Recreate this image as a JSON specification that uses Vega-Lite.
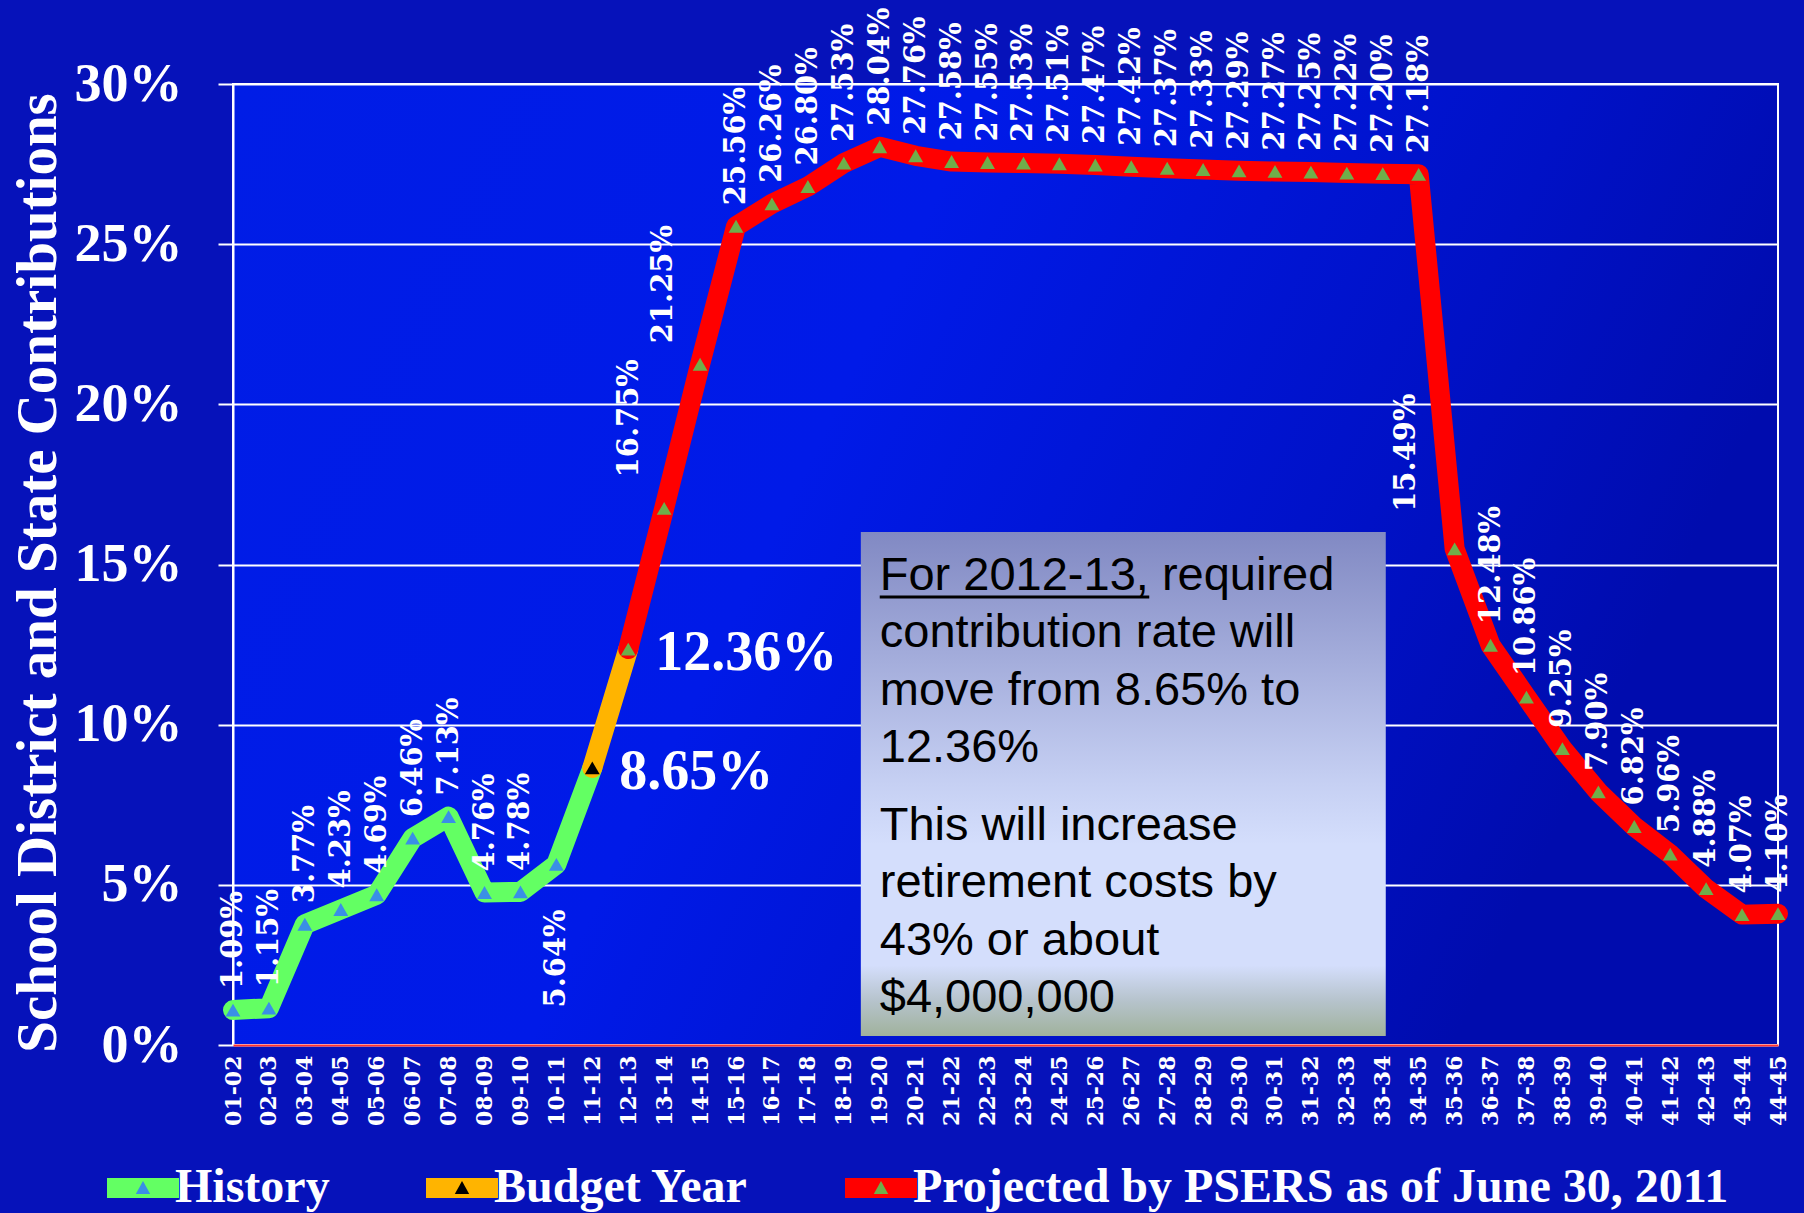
{
  "$schema": "https://vega.github.io/schema/vega-lite/v6.json",
  "width": 1545,
  "height": 961,
  "autosize": {"type": "none"},
  "padding": {"left": 233, "top": 84, "right": 26, "bottom": 168},
  "background": "#0612ba",
  "config": {
    "view": {
      "fill": {"gradient": "linear", "x1": 0, "y1": 0, "x2": 1, "y2": 0.3,
        "stops": [
          {"offset": 0, "color": "#001de6"},
          {"offset": 0.45, "color": "#001ae8"},
          {"offset": 0.8, "color": "#0011c6"},
          {"offset": 1, "color": "#000cae"}
        ]},
      "stroke": "white",
      "strokeWidth": 2
    },
    "legend": {"padding": 0}
  },
  "datasets": {
    "notes": [
      {"note": "For 2012-13, required contribution rate will move from 8.65% to 12.36%. This will increase retirement costs by 43% or about $4,000,000"}
    ],
    "rates": [
      {"year": "01-02", "rate": 0.0109, "series": "History"},
      {"year": "02-03", "rate": 0.0115, "series": "History"},
      {"year": "03-04", "rate": 0.0377, "series": "History"},
      {"year": "04-05", "rate": 0.0423, "series": "History"},
      {"year": "05-06", "rate": 0.0469, "series": "History"},
      {"year": "06-07", "rate": 0.0646, "series": "History"},
      {"year": "07-08", "rate": 0.0713, "series": "History"},
      {"year": "08-09", "rate": 0.0476, "series": "History"},
      {"year": "09-10", "rate": 0.0478, "series": "History"},
      {"year": "10-11", "rate": 0.0564, "series": "History"},
      {"year": "11-12", "rate": 0.0865, "series": "Budget Year"},
      {"year": "12-13", "rate": 0.1236, "series": "Projected by PSERS as of June 30, 2011"},
      {"year": "13-14", "rate": 0.1675, "series": "Projected by PSERS as of June 30, 2011"},
      {"year": "14-15", "rate": 0.2125, "series": "Projected by PSERS as of June 30, 2011"},
      {"year": "15-16", "rate": 0.2556, "series": "Projected by PSERS as of June 30, 2011"},
      {"year": "16-17", "rate": 0.2626, "series": "Projected by PSERS as of June 30, 2011"},
      {"year": "17-18", "rate": 0.2680, "series": "Projected by PSERS as of June 30, 2011"},
      {"year": "18-19", "rate": 0.2753, "series": "Projected by PSERS as of June 30, 2011"},
      {"year": "19-20", "rate": 0.2804, "series": "Projected by PSERS as of June 30, 2011"},
      {"year": "20-21", "rate": 0.2776, "series": "Projected by PSERS as of June 30, 2011"},
      {"year": "21-22", "rate": 0.2758, "series": "Projected by PSERS as of June 30, 2011"},
      {"year": "22-23", "rate": 0.2755, "series": "Projected by PSERS as of June 30, 2011"},
      {"year": "23-24", "rate": 0.2753, "series": "Projected by PSERS as of June 30, 2011"},
      {"year": "24-25", "rate": 0.2751, "series": "Projected by PSERS as of June 30, 2011"},
      {"year": "25-26", "rate": 0.2747, "series": "Projected by PSERS as of June 30, 2011"},
      {"year": "26-27", "rate": 0.2742, "series": "Projected by PSERS as of June 30, 2011"},
      {"year": "27-28", "rate": 0.2737, "series": "Projected by PSERS as of June 30, 2011"},
      {"year": "28-29", "rate": 0.2733, "series": "Projected by PSERS as of June 30, 2011"},
      {"year": "29-30", "rate": 0.2729, "series": "Projected by PSERS as of June 30, 2011"},
      {"year": "30-31", "rate": 0.2727, "series": "Projected by PSERS as of June 30, 2011"},
      {"year": "31-32", "rate": 0.2725, "series": "Projected by PSERS as of June 30, 2011"},
      {"year": "32-33", "rate": 0.2722, "series": "Projected by PSERS as of June 30, 2011"},
      {"year": "33-34", "rate": 0.2720, "series": "Projected by PSERS as of June 30, 2011"},
      {"year": "34-35", "rate": 0.2718, "series": "Projected by PSERS as of June 30, 2011"},
      {"year": "35-36", "rate": 0.1549, "series": "Projected by PSERS as of June 30, 2011"},
      {"year": "36-37", "rate": 0.1248, "series": "Projected by PSERS as of June 30, 2011"},
      {"year": "37-38", "rate": 0.1086, "series": "Projected by PSERS as of June 30, 2011"},
      {"year": "38-39", "rate": 0.0925, "series": "Projected by PSERS as of June 30, 2011"},
      {"year": "39-40", "rate": 0.0790, "series": "Projected by PSERS as of June 30, 2011"},
      {"year": "40-41", "rate": 0.0682, "series": "Projected by PSERS as of June 30, 2011"},
      {"year": "41-42", "rate": 0.0596, "series": "Projected by PSERS as of June 30, 2011"},
      {"year": "42-43", "rate": 0.0488, "series": "Projected by PSERS as of June 30, 2011"},
      {"year": "43-44", "rate": 0.0407, "series": "Projected by PSERS as of June 30, 2011"},
      {"year": "44-45", "rate": 0.0410, "series": "Projected by PSERS as of June 30, 2011"}
    ],
    "lines": [
      {"year": "01-02", "rate": 0.0109, "series": "History"},
      {"year": "02-03", "rate": 0.0115, "series": "History"},
      {"year": "03-04", "rate": 0.0377, "series": "History"},
      {"year": "04-05", "rate": 0.0423, "series": "History"},
      {"year": "05-06", "rate": 0.0469, "series": "History"},
      {"year": "06-07", "rate": 0.0646, "series": "History"},
      {"year": "07-08", "rate": 0.0713, "series": "History"},
      {"year": "08-09", "rate": 0.0476, "series": "History"},
      {"year": "09-10", "rate": 0.0478, "series": "History"},
      {"year": "10-11", "rate": 0.0564, "series": "History"},
      {"year": "11-12", "rate": 0.0865, "series": "History"},
      {"year": "11-12", "rate": 0.0865, "series": "Budget Year"},
      {"year": "12-13", "rate": 0.1236, "series": "Budget Year"},
      {"year": "12-13", "rate": 0.1236, "series": "Projected by PSERS as of June 30, 2011"},
      {"year": "13-14", "rate": 0.1675, "series": "Projected by PSERS as of June 30, 2011"},
      {"year": "14-15", "rate": 0.2125, "series": "Projected by PSERS as of June 30, 2011"},
      {"year": "15-16", "rate": 0.2556, "series": "Projected by PSERS as of June 30, 2011"},
      {"year": "16-17", "rate": 0.2626, "series": "Projected by PSERS as of June 30, 2011"},
      {"year": "17-18", "rate": 0.2680, "series": "Projected by PSERS as of June 30, 2011"},
      {"year": "18-19", "rate": 0.2753, "series": "Projected by PSERS as of June 30, 2011"},
      {"year": "19-20", "rate": 0.2804, "series": "Projected by PSERS as of June 30, 2011"},
      {"year": "20-21", "rate": 0.2776, "series": "Projected by PSERS as of June 30, 2011"},
      {"year": "21-22", "rate": 0.2758, "series": "Projected by PSERS as of June 30, 2011"},
      {"year": "22-23", "rate": 0.2755, "series": "Projected by PSERS as of June 30, 2011"},
      {"year": "23-24", "rate": 0.2753, "series": "Projected by PSERS as of June 30, 2011"},
      {"year": "24-25", "rate": 0.2751, "series": "Projected by PSERS as of June 30, 2011"},
      {"year": "25-26", "rate": 0.2747, "series": "Projected by PSERS as of June 30, 2011"},
      {"year": "26-27", "rate": 0.2742, "series": "Projected by PSERS as of June 30, 2011"},
      {"year": "27-28", "rate": 0.2737, "series": "Projected by PSERS as of June 30, 2011"},
      {"year": "28-29", "rate": 0.2733, "series": "Projected by PSERS as of June 30, 2011"},
      {"year": "29-30", "rate": 0.2729, "series": "Projected by PSERS as of June 30, 2011"},
      {"year": "30-31", "rate": 0.2727, "series": "Projected by PSERS as of June 30, 2011"},
      {"year": "31-32", "rate": 0.2725, "series": "Projected by PSERS as of June 30, 2011"},
      {"year": "32-33", "rate": 0.2722, "series": "Projected by PSERS as of June 30, 2011"},
      {"year": "33-34", "rate": 0.2720, "series": "Projected by PSERS as of June 30, 2011"},
      {"year": "34-35", "rate": 0.2718, "series": "Projected by PSERS as of June 30, 2011"},
      {"year": "35-36", "rate": 0.1549, "series": "Projected by PSERS as of June 30, 2011"},
      {"year": "36-37", "rate": 0.1248, "series": "Projected by PSERS as of June 30, 2011"},
      {"year": "37-38", "rate": 0.1086, "series": "Projected by PSERS as of June 30, 2011"},
      {"year": "38-39", "rate": 0.0925, "series": "Projected by PSERS as of June 30, 2011"},
      {"year": "39-40", "rate": 0.0790, "series": "Projected by PSERS as of June 30, 2011"},
      {"year": "40-41", "rate": 0.0682, "series": "Projected by PSERS as of June 30, 2011"},
      {"year": "41-42", "rate": 0.0596, "series": "Projected by PSERS as of June 30, 2011"},
      {"year": "42-43", "rate": 0.0488, "series": "Projected by PSERS as of June 30, 2011"},
      {"year": "43-44", "rate": 0.0407, "series": "Projected by PSERS as of June 30, 2011"},
      {"year": "44-45", "rate": 0.0410, "series": "Projected by PSERS as of June 30, 2011"}
    ]
  },
  "layer": [
    {
      "data": {"name": "notes"},
      "mark": {"type": "rect", "xOffset": 17, "x2Offset": 3,
        "fill": {"gradient": "linear", "x1": 0, "y1": 0, "x2": 0, "y2": 1,
          "stops": [
            {"offset": 0, "color": "#8189c3"},
            {"offset": 0.5, "color": "#c6d0f3"},
            {"offset": 0.62, "color": "#d4defc"},
            {"offset": 0.86, "color": "#d4defc"},
            {"offset": 0.93, "color": "#b6c3cc"},
            {"offset": 1, "color": "#a0b29c"}
          ]}},
      "encoding": {
        "x": {"datum": "18-19", "type": "ordinal"},
        "x2": {"datum": "33-34"},
        "y": {"datum": 0.16016, "type": "quantitative"},
        "y2": {"datum": 0.0028}
      }
    },
    {
      "data": {"name": "notes"},
      "mark": {"type": "text", "font": "Liberation Sans", "fontSize": 47, "color": "black",
        "align": "left", "baseline": "alphabetic", "lineHeight": 57.5,
        "text": ["For 2012-13, required", "contribution rate will", "move from 8.65% to", "12.36%"]},
      "encoding": {
        "x": {"datum": "19-20", "type": "ordinal"},
        "y": {"datum": 0.14204, "type": "quantitative"}
      }
    },
    {
      "data": {"name": "notes"},
      "mark": {"type": "text", "font": "Liberation Sans", "fontSize": 47, "color": "black",
        "align": "left", "baseline": "alphabetic", "lineHeight": 57.5,
        "text": ["This will increase", "retirement costs by", "43% or about", "$4,000,000"]},
      "encoding": {
        "x": {"datum": "19-20", "type": "ordinal"},
        "y": {"datum": 0.064, "type": "quantitative"}
      }
    },
    {
      "data": {"name": "notes"},
      "mark": {"type": "rule", "color": "black", "strokeWidth": 3, "x2Offset": 18, "yOffset": 7},
      "encoding": {
        "x": {"datum": "19-20", "type": "ordinal"},
        "x2": {"datum": "26-27"},
        "y": {"datum": 0.14204, "type": "quantitative"}
      }
    },
    {
      "encoding": {
        "x": {
          "field": "year", "type": "ordinal",
          "scale": {"type": "point", "padding": 0},
          "axis": {
            "title": null, "labelAngle": 270, "labelFont": "DejaVu Serif", "labelFontWeight": "bold",
            "labelFontSize": 22, "labelColor": "white", "labelPadding": 10, "ticks": false,
            "domainColor": "#ff3030", "domainWidth": 2, "grid": false, "labelOverlap": false
          }
        },
        "y": {
          "field": "rate", "type": "quantitative",
          "scale": {"domain": [0, 0.3], "nice": false},
          "axis": {
            "title": "School District and State  Contributions",
            "format": ".0%", "values": [0, 0.05, 0.1, 0.15, 0.2, 0.25, 0.3],
            "grid": true, "gridColor": "white", "gridWidth": 2, "gridOpacity": 1,
            "tickColor": "white", "tickSize": 15, "tickWidth": 2,
            "domainColor": "white", "domainWidth": 2,
            "labelFont": "Liberation Serif", "labelFontWeight": "bold", "labelFontSize": 54,
            "labelColor": "white", "labelPadding": 36,
            "titleFont": "Liberation Serif", "titleFontWeight": "bold", "titleFontSize": 57,
            "titleColor": "white", "titleAngle": 270, "titleX": -195, "titleY": 488.5,
            "titleBaseline": "middle", "titleAlign": "center"
          }
        }
      },
      "layer": [
        {
          "data": {"name": "lines"},
          "mark": {"type": "line", "strokeWidth": 20, "strokeCap": "round", "strokeJoin": "round"},
          "encoding": {
            "stroke": {
              "field": "series", "type": "nominal",
              "scale": {"domain": ["History", "Budget Year", "Projected by PSERS as of June 30, 2011"],
                        "range": ["#63ff63", "#ffb400", "#ff0000"]},
              "legend": {
                "orient": "none", "legendX": -136, "legendY": 1058, "direction": "horizontal",
                "title": null, "symbolType": "stroke", "symbolSize": 5184, "symbolStrokeWidth": 20,
                "symbolOffset": 0, "labelOffset": -14, "columnPadding": 56,
                "labelFont": "Liberation Serif", "labelFontWeight": "bold", "labelFontSize": 48,
                "labelColor": "white", "labelLimit": 1000
              }
            }
          }
        },
        {
          "data": {"name": "rates"},
          "mark": {"type": "point", "shape": "triangle-up", "filled": true, "size": 220, "opacity": 1},
          "encoding": {
            "fill": {
              "field": "series", "type": "nominal",
              "scale": {"domain": ["History", "Budget Year", "Projected by PSERS as of June 30, 2011", "none"],
                        "range": ["#3a8fe6", "#000000", "#6fae4a", "#000000"]},
              "legend": {
                "orient": "none", "legendX": -136, "legendY": 1058, "direction": "horizontal",
                "title": null, "values": ["History", "Budget Year", "Projected by PSERS as of June 30, 2011"],
                "symbolType": "M-1,0M1,0M0,-0.2L0.2,0.16L-0.2,0.16Z", "symbolSize": 5184,
                "symbolStrokeWidth": 20, "symbolStrokeColor": "transparent",
                "symbolOffset": 0, "labelOffset": -14, "columnPadding": 56,
                "labelFont": "Liberation Serif", "labelFontWeight": "bold", "labelFontSize": 48,
                "labelColor": "white", "labelOpacity": 0, "labelLimit": 1000
              }
            }
          }
        },
        {
          "data": {"name": "rates"},
          "transform": [{"filter": {"not": {"field": "year", "oneOf": ["10-11", "11-12", "12-13", "13-14", "14-15", "35-36"]}}}],
          "mark": {"type": "text", "font": "DejaVu Serif", "fontWeight": "bold", "fontSize": 29, "color": "white",
            "angle": 270, "align": "left", "baseline": "middle", "dx": 21},
          "encoding": {"text": {"field": "rate", "type": "quantitative", "format": ".2%"}}
        },
        {
          "data": {"name": "rates"},
          "transform": [{"filter": {"field": "year", "equal": "10-11"}}],
          "mark": {"type": "text", "font": "DejaVu Serif", "fontWeight": "bold", "fontSize": 29, "color": "white",
            "angle": 270, "align": "right", "baseline": "middle", "dx": -45},
          "encoding": {"text": {"field": "rate", "type": "quantitative", "format": ".2%"}}
        },
        {
          "data": {"name": "rates"},
          "transform": [{"filter": {"field": "year", "equal": "13-14"}}],
          "mark": {"type": "text", "font": "DejaVu Serif", "fontWeight": "bold", "fontSize": 29, "color": "white",
            "angle": 270, "align": "left", "baseline": "middle", "dx": 31, "dy": -35},
          "encoding": {"text": {"field": "rate", "type": "quantitative", "format": ".2%"}}
        },
        {
          "data": {"name": "rates"},
          "transform": [{"filter": {"field": "year", "equal": "14-15"}}],
          "mark": {"type": "text", "font": "DejaVu Serif", "fontWeight": "bold", "fontSize": 29, "color": "white",
            "angle": 270, "align": "left", "baseline": "middle", "dx": 21, "dy": -37},
          "encoding": {"text": {"field": "rate", "type": "quantitative", "format": ".2%"}}
        },
        {
          "data": {"name": "rates"},
          "transform": [{"filter": {"field": "year", "equal": "35-36"}}],
          "mark": {"type": "text", "font": "DejaVu Serif", "fontWeight": "bold", "fontSize": 29, "color": "white",
            "angle": 270, "align": "left", "baseline": "middle", "dx": 37, "dy": -49},
          "encoding": {"text": {"field": "rate", "type": "quantitative", "format": ".2%"}}
        },
        {
          "data": {"name": "rates"},
          "transform": [{"filter": {"field": "year", "oneOf": ["11-12", "12-13"]}}],
          "mark": {"type": "text", "font": "Liberation Serif", "fontWeight": "bold", "fontSize": 56, "color": "white",
            "align": "left", "baseline": "middle", "dx": 27, "dy": 4},
          "encoding": {"text": {"field": "rate", "type": "quantitative", "format": ".2%"}}
        }
      ]
    }
  ]
}
